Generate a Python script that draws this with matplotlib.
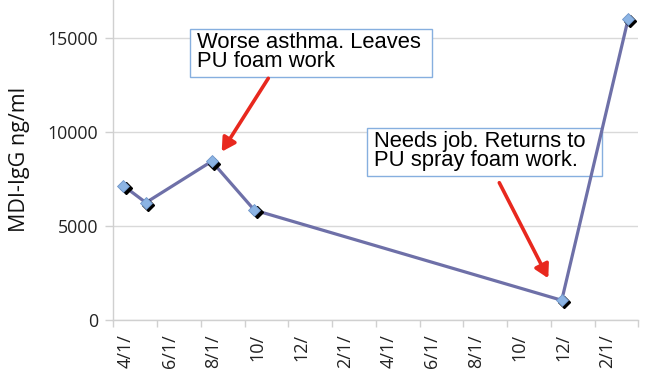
import matplotlib
matplotlib.use("Agg")
import matplotlib.pyplot as plt
import matplotlib.transforms as mtransforms

# Data (x in months from the first axis tick, "4/1/")
months = [0.46, 1.49, 4.5, 6.45, 20.5, 23.54]
mdi_igg = [7150, 6250, 8450, 5850, 1050, 16050]

tick_labels = ["4/1/", "6/1/", "8/1/", "10/", "12/", "2/1/",
               "4/1/", "6/1/", "8/1/", "10/", "12/", "2/1/"]
yticks = [0, 5000, 10000, 15000]

W, H = 660, 389
fig = plt.figure(figsize=(W / 100, H / 100), dpi=100)
ax = fig.add_axes([113.3 / W, 69 / H, (638.3 - 113.3) / W, 320 / H])

ax.set_xlim(0, 24)
ax.set_ylim(0, 17040)

line_color = "#6e70a8"
ax.plot(months, mdi_igg, color=line_color, lw=2.3, zorder=3, solid_capstyle="round")
shadow = mtransforms.offset_copy(ax.transData, fig=fig, x=2.2, y=-2.2, units="dots")
ax.plot(months, mdi_igg, ls="none", marker="D", ms=6.5, mfc="black", mec="black",
        transform=shadow, zorder=4)
ax.plot(months, mdi_igg, ls="none", marker="D", ms=6.5, mfc="#8cb4e4", mec="#6f95c8",
        mew=0.6, zorder=5)

# grid and axes
ax.set_yticks(yticks)
ax.set_yticklabels([str(v) for v in yticks], fontfamily="Open Sans", fontsize=12.8,
                   color="#222222")
ax.yaxis.grid(True, color="#d9d9d9", lw=1)
ax.tick_params(axis="y", length=6, color="#d0d0d0", width=1, pad=5)
ax.set_xticks(range(0, 25, 2))
ax.set_xticklabels([])
ax.tick_params(axis="x", which="major", length=5, color="#d0d0d0", width=1)
ax.set_xticks([2 * k + 0.58 for k in range(12)], minor=True)
ax.set_xticklabels(tick_labels, minor=True, rotation=90, fontfamily="Open Sans",
                   fontsize=13, color="#222222")
ax.tick_params(axis="x", which="minor", length=0, pad=10)
for s in ["top", "right"]:
    ax.spines[s].set_visible(False)
for s in ["left", "bottom"]:
    ax.spines[s].set_color("#d0d0d0")
    ax.spines[s].set_linewidth(1)
ax.set_axisbelow(True)

fig.text(20 / W, 1 - 159 / H, "MDI-IgG ng/ml", rotation=90, ha="center", va="center",
         fontfamily="Open Sans", fontsize=15.5, color="#111111")

# Annotations
arrow = dict(arrowstyle="-|>,head_length=0.8,head_width=0.45",
             color="#e8281e", lw=2.6, shrinkA=0, shrinkB=0)
ax.annotate("", xy=(221.7 / W, 1 - 151.7 / H), xycoords="figure fraction",
            xytext=(268.3 / W, 1 - 78.3 / H), textcoords="figure fraction",
            arrowprops=arrow, zorder=6)
ax.annotate("", xy=(548.3 / W, 1 - 278.3 / H), xycoords="figure fraction",
            xytext=(499.3 / W, 1 - 182.7 / H), textcoords="figure fraction",
            arrowprops=arrow, zorder=6)

for (x0, y0, x1, y1, txt, tx, ty) in [
    (190, 29.3, 431.7, 77.3, "Worse asthma. Leaves\nPU foam work", 197, 32),
    (366.7, 128.3, 602, 176, "Needs job. Returns to\nPU spray foam work.", 374, 131),
]:
    r = plt.Rectangle((x0 / W, 1 - y1 / H), (x1 - x0) / W, (y1 - y0) / H,
                      transform=fig.transFigure, fc="white", ec="#86afdf", lw=1,
                      zorder=2.5, clip_on=False)
    ax.add_patch(r)
    fig.text(tx / W, 1 - ty / H, txt, ha="left", va="top", fontfamily="Liberation Sans",
             fontsize=15.8, linespacing=0.88, color="black", zorder=8)

fig.savefig("out.png", dpi=100)
